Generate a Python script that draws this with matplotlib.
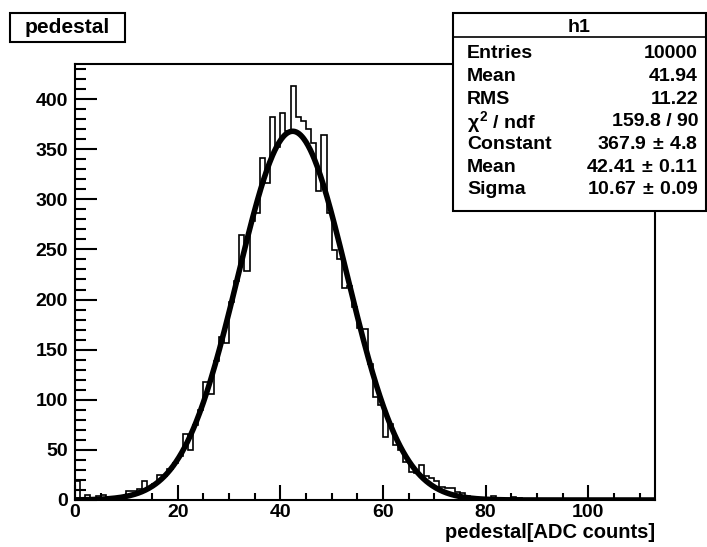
import numpy as np
import matplotlib
matplotlib.use("Agg")
import matplotlib.pyplot as plt
from matplotlib.patches import Rectangle

# ---- data ----
bin_low = 0
bin_width = 1
counts = [19, 2, 5, 1, 4, 5, 2, 1, 2, 3,
          9, 9, 11, 19, 13, 16, 25, 24, 31, 37,
          44, 66, 50, 75, 90, 118, 106, 139, 163, 157,
          198, 218, 264, 228, 278, 286, 341, 316, 382, 352,
          386, 368, 413, 382, 378, 370, 356, 308, 364, 286,
          249, 240, 212, 214, 193, 172, 171, 136, 103, 95,
          63, 76, 55, 50, 38, 28, 27, 35, 24, 22,
          19, 13, 12, 12, 8, 7, 4, 3, 2, 1,
          1, 4, 1, 1, 0, 3, 2, 0, 1, 0,
          0, 0, 0, 0, 0, 0, 0, 0, 0, 0,
          0, 0, 0, 0, 0, 0, 0, 0, 0, 0,
          0, 0, 0]
fit_constant = 367.9
fit_mean = 42.41
fit_sigma = 10.67
stats_rows = [("Entries", "10000"), ("Mean", "41.94"), ("RMS", "11.22"),
              (r"$\chi^{2}$ / ndf", "159.8 / 90"),
              ("Constant", r"367.9$\,\pm\,$4.8"), ("Mean", r"42.41$\,\pm\,$0.11"),
              ("Sigma", r"10.67$\,\pm\,$0.09")]
x_ticks = [0, 20, 40, 60, 80, 100]
y_ticks = [0, 50, 100, 150, 200, 250, 300, 350, 400]

plt.rcParams['font.family'] = ['Liberation Sans', 'DejaVu Sans']
plt.rcParams['font.weight'] = 'bold'
plt.rcParams['mathtext.fontset'] = 'custom'
plt.rcParams['mathtext.rm'] = 'Liberation Sans:bold'
plt.rcParams['mathtext.it'] = 'Liberation Sans:bold'
plt.rcParams['mathtext.bf'] = 'Liberation Sans:bold'

W, H = 707, 547
fig = plt.figure(figsize=(W / 100, H / 100), dpi=100)
ax = fig.add_axes([75 / W, 1 - 500 / H, 580 / W, 436 / H])

edges = bin_low + bin_width * np.arange(len(counts) + 1)
ax.stairs(counts, edges, color='black', linewidth=1.2)

xf = np.linspace(edges[0], edges[-1], 800)
yf = fit_constant * np.exp(-0.5 * ((xf - fit_mean) / fit_sigma) ** 2)
ax.plot(xf, yf, color='black', linewidth=4.0, solid_capstyle='butt', clip_on=True)

ax.set_xlim(0, 113)
ax.set_ylim(0, 435)
ax.set_xticks(x_ticks)
ax.set_yticks(y_ticks)
ax.set_xticks(np.arange(0, 113, 5), minor=True)
ax.set_yticks(np.arange(0, 435, 10), minor=True)
ax.tick_params(axis='x', which='major', direction='in', length=11, width=1.5,
               labelsize=14, pad=3)
ax.tick_params(axis='x', which='minor', direction='in', length=5, width=1.5)
ax.tick_params(axis='y', which='major', direction='in', length=16, width=1.5,
               labelsize=14, pad=5)
ax.tick_params(axis='y', which='minor', direction='in', length=8, width=1.5)
for lab in ax.get_xticklabels() + ax.get_yticklabels():
    lab.set_fontweight('bold')
for s in ax.spines.values():
    s.set_linewidth(1.5)

fig.text(655 / W, 1 - 533 / H, "pedestal[ADC counts]", ha='right', va='center',
         fontsize=14.5, fontweight='bold')

# title box
fig.patches.append(Rectangle((10 / W, 1 - 42 / H), 115 / W, 29 / H,
                             transform=fig.transFigure, facecolor='white',
                             edgecolor='black', linewidth=1.5))
fig.text(67.5 / W, 1 - 27.5 / H, "pedestal", ha='center', va='center',
         fontsize=15, fontweight='bold')

# stats box
bx0, bx1, by0, by1 = 453, 706, 13, 211
fig.patches.append(Rectangle((bx0 / W, 1 - by1 / H), (bx1 - bx0) / W, (by1 - by0) / H,
                             transform=fig.transFigure, facecolor='white',
                             edgecolor='black', linewidth=1.5, zorder=5))
fig.lines.append(plt.Line2D([bx0 / W, bx1 / W], [1 - 36.5 / H, 1 - 36.5 / H],
                            transform=fig.transFigure, color='black', linewidth=1.2, zorder=6))
fig.text((bx0 + bx1) / 2 / W, 1 - 27 / H, "h1", ha='center', va='center',
         fontsize=14, fontweight='bold', zorder=7)
row_y0, row_dy = 54, 22.6
for i, (k, v) in enumerate(stats_rows):
    yy = 1 - (row_y0 + i * row_dy) / H
    fig.text(467 / W, yy, k, ha='left', va='center', fontsize=14,
             fontweight='bold', zorder=7)
    fig.text(698 / W, yy, v, ha='right', va='center', fontsize=14,
             fontweight='bold', zorder=7)

fig.savefig("out.png", dpi=100)
